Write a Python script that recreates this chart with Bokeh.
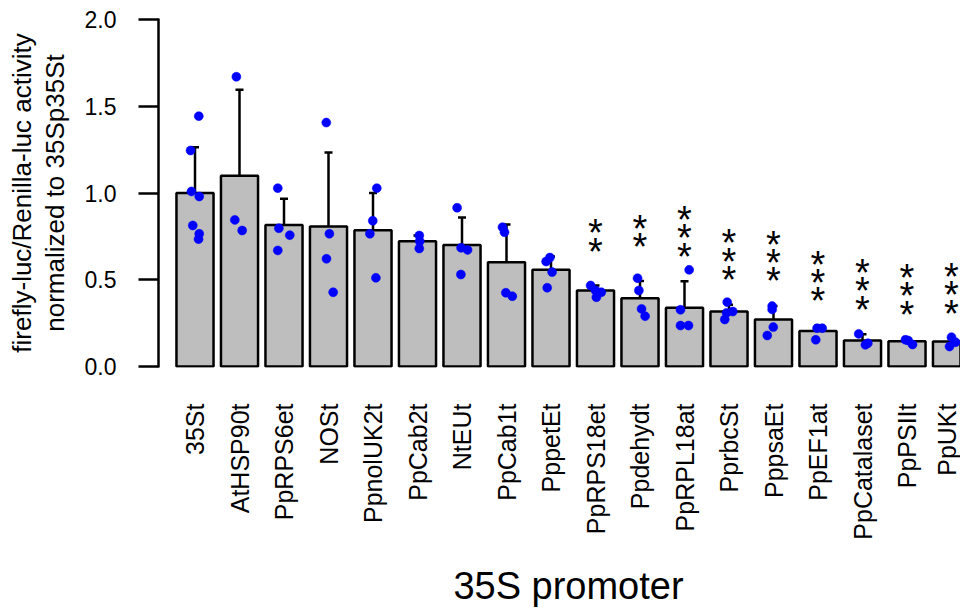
import math
from bokeh.plotting import figure
from bokeh.models import (Range1d, FixedTicker, Whisker, TeeHead, ColumnDataSource,
                          PrintfTickFormatter, LinearAxis)
from bokeh.embed import file_html
from bokeh.resources import INLINE
from bokeh.core.properties import value

FONT = "Liberation Sans"

promoters = ["35St", "AtHSP90t", "PpRPS6et", "NOSt", "PpnolUK2t", "PpCab2t", "NtEUt",
             "PpCab1t", "PppetEt", "PpRPS18et", "Ppdehydt", "PpRPL18at", "PprbcSt",
             "PppsaEt", "PpEF1at", "PpCatalaset", "PpPSIIt", "PpUKt"]
means = [1.00, 1.10, 0.815, 0.807, 0.786, 0.722, 0.701, 0.601, 0.557, 0.438, 0.394,
         0.338, 0.317, 0.271, 0.204, 0.150, 0.146, 0.144]
sds = [0.264, 0.495, 0.152, 0.426, 0.214, 0.033, 0.158, 0.218, 0.077, 0.029, 0.099,
       0.153, 0.039, 0.077, 0.030, 0.036, 0.011, 0.019]
replicates = [
    [1.245, 1.443, 1.009, 0.980, 0.813, 0.765, 0.734],
    [1.670, 0.845, 0.784],
    [1.028, 0.797, 0.757, 0.669],
    [1.406, 0.765, 0.621, 0.428],
    [1.028, 0.840, 0.765, 0.511],
    [0.755, 0.722, 0.680],
    [0.915, 0.684, 0.672, 0.530],
    [0.803, 0.774, 0.425, 0.405],
    [0.628, 0.605, 0.544, 0.454],
    [0.467, 0.438, 0.428, 0.399],
    [0.509, 0.438, 0.332, 0.290],
    [0.557, 0.327, 0.236, 0.236],
    [0.371, 0.317, 0.309, 0.271],
    [0.348, 0.329, 0.227, 0.179],
    [0.221, 0.221, 0.154],
    [0.188, 0.134, 0.125],
    [0.154, 0.150, 0.127],
    [0.169, 0.140, 0.115],
]
jitter = [
    [-0.10, 0.085, -0.08, 0.095, -0.05, 0.095, 0.08],
    [-0.07, -0.105, 0.06],
    [-0.14, -0.115, 0.13, -0.14],
    [-0.05, 0.02, -0.045, 0.105],
    [0.085, -0.005, -0.07, 0.065],
    [0.04, 0.05, 0.04],
    [-0.11, -0.02, 0.125, -0.025],
    [-0.09, -0.045, -0.015, 0.13],
    [-0.025, -0.11, 0.025, -0.085],
    [-0.11, 0.0, 0.13, 0.02],
    [-0.055, -0.025, 0.035, 0.115],
    [0.105, -0.09, -0.09, 0.09],
    [-0.04, 0.085, -0.055, -0.095],
    [-0.03, -0.03, -0.005, -0.14],
    [0.095, -0.02, -0.05],
    [-0.085, 0.12, 0.065],
    [-0.035, 0.025, 0.125],
    [0.0, 0.09, -0.045],
]
signif = ["", "", "", "", "", "", "", "", "", "**", "**", "***", "***", "***",
          "***", "***", "***", "***"]
y_ticks = [0.0, 0.5, 1.0, 1.5, 2.0]
ylab_line1 = "firefly-luc/Renilla-luc activity"
ylab_line2 = "normalized to 35Sp35St"
xlab = "35S promoter"

# ---- layout (pixels) ----
W, H = 960, 610
PX_X = 44.5                # pixels per bar slot
PX_Y = 173.5               # pixels per y unit
AXIS_X = 158               # page x of the y axis
FIRST_BAR = 194.5          # page x of first bar centre
XLAB_X = 568               # page x of the x-axis title centre
TOP = 18
FRAME_H = 349
x_start = -(FIRST_BAR - AXIS_X) / PX_X
x_end = x_start + (W - AXIS_X) / PX_X
y_hi = 2.0 + 1.0 / PX_Y
y_lo = y_hi - FRAME_H / PX_Y


def px2y(py):   # pixel distance -> y data distance
    return py / PX_Y


p = figure(width=W, height=H, x_range=Range1d(x_start, x_end), y_range=Range1d(y_lo, y_hi),
           output_backend="svg", toolbar_location=None,
           min_border_left=AXIS_X, min_border_right=0, min_border_top=TOP,
           min_border_bottom=H - TOP - FRAME_H)
p.extra_x_ranges = {"title": Range1d(AXIS_X - XLAB_X, W - XLAB_X)}
p.outline_line_color = None
p.xgrid.visible = False
p.ygrid.visible = False
p.background_fill_color = "white"
p.border_fill_color = "white"

idx = list(range(len(promoters)))
src = ColumnDataSource(dict(x=idx, top=means,
                            upper=[m + s for m, s in zip(means, sds)],
                            lower=[m - s for m, s in zip(means, sds)]))

p.vbar(x="x", top="top", bottom=0, width=1 / 1.2, source=src,
       fill_color="#bebebe", line_color="black", line_width=2.5)

wh = Whisker(base="x", upper="upper", lower="lower", source=src,
             line_color="black", line_width=2.5,
             upper_head=TeeHead(size=8, line_width=2.5, line_color="black"),
             lower_head=TeeHead(size=8, line_width=2.5, line_color="black"))
p.add_layout(wh)

px, py = [], []
for i, (vals, jit) in enumerate(zip(replicates, jitter)):
    for v, j in zip(vals, jit):
        px.append(i + j)
        py.append(v)
p.scatter(px, py, size=9, fill_color="#0000ff", line_color="#0000ff", line_width=0.5)

# significance stars
STAR_FS = 38
STAR_DROP = 5      # px from star centre down to the text anchor
sx, sy = [], []
for i, s in enumerate(signif):
    n = len(s)
    if n == 0:
        continue
    top = means[i] + sds[i]
    centre = top + px2y(48)
    for k in range(n):
        c = centre + px2y((k - (n - 1) / 2) * 18.3)
        sx.append(i)
        sy.append(c - px2y(STAR_DROP))
p.text(x=sx, y=sy, text=["*"] * len(sx), text_font=value(FONT),
       text_font_size=f"{STAR_FS}px", text_align="center", text_baseline="alphabetic",
       text_color="black")

# y axis (ticks + second title line)
ya = p.yaxis[0]
ya.ticker = FixedTicker(ticks=y_ticks)
ya.formatter = PrintfTickFormatter(format="%.1f")
ya.minor_tick_line_color = None
ya.major_tick_in = 0
ya.major_tick_out = 20
ya.major_tick_line_width = 2.5
ya.axis_line_width = 2.5
ya.major_label_standoff = 22
ya.major_label_text_font = FONT
ya.major_label_text_font_size = "23px"
ya.major_label_text_color = "black"
ya.axis_label = ylab_line2
ya.axis_label_text_font = FONT
ya.axis_label_text_font_size = "26px"
ya.axis_label_text_font_style = "normal"
ya.axis_label_text_color = "black"
ya.axis_label_standoff = 12

# outer axis carrying the first title line
ya2 = LinearAxis(ticker=FixedTicker(ticks=[]), axis_line_color=None,
                 major_tick_line_color=None, minor_tick_line_color=None,
                 major_tick_out=0, major_tick_in=0, major_label_standoff=0,
                 axis_label=ylab_line1, axis_label_text_font=FONT,
                 axis_label_text_font_size="26px", axis_label_text_font_style="normal",
                 axis_label_text_color="black", axis_label_standoff=0)
p.add_layout(ya2, "left")

# x axis
xa = p.xaxis[0]
xa.ticker = FixedTicker(ticks=idx)
xa.major_label_overrides = {i: n for i, n in enumerate(promoters)}
xa.major_label_orientation = math.pi / 2
xa.axis_line_color = None
xa.major_tick_line_color = None
xa.minor_tick_line_color = None
xa.major_tick_out = 0
xa.major_tick_in = 0
xa.major_label_standoff = 36
xa.major_label_text_font = FONT
xa.major_label_text_font_size = "25px"
xa.major_label_text_color = "black"

# x-axis title, drawn as the single label of a second bottom axis
xa2 = LinearAxis(x_range_name="title", ticker=FixedTicker(ticks=[0]),
                 major_label_overrides={0: xlab}, axis_line_color=None,
                 major_tick_line_color=None, minor_tick_line_color=None,
                 major_tick_out=0, major_tick_in=0, major_label_standoff=22,
                 major_label_text_font=FONT, major_label_text_font_size="38px",
                 major_label_text_color="black")
p.add_layout(xa2, "below")

open("out.html", "w").write(file_html(p, INLINE))
